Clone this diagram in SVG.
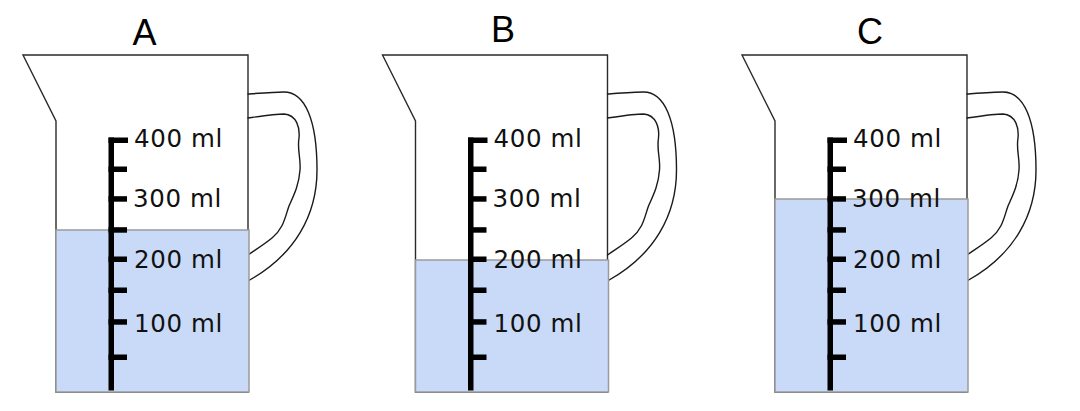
<svg xmlns="http://www.w3.org/2000/svg" xmlns:xlink="http://www.w3.org/1999/xlink" width="1080" height="411" viewBox="0 0 1080 411">
  <style>
    .outline { fill: none; stroke: #2a2a2a; stroke-width: 1.4; stroke-linejoin: miter; }
    .handle { fill: none; stroke: #1a1a1a; stroke-width: 1.4; stroke-linecap: round; }
    .water { fill: #c9daf8; stroke: #9a9a9a; stroke-width: 1.5; }
    .bar { fill: #000; }
    .lbl { font-family: "DejaVu Sans", "Noto Sans", sans-serif; font-size: 24.5px; letter-spacing: 0.6px; fill: #111; }
    .title { font-family: "Liberation Sans", Arial, sans-serif; font-size: 36px; fill: #000; text-anchor: middle; }
  </style>
  <defs>
    <g id="jug-body">
      <path class="outline" d="M23,55 L248,55 L248,392 L56,392 L56,121 Z"/>
      <path class="handle" d="M248,94 C262,93 275,92 284,92 C305,92 317,120 317,170 C317,215 295,255 248,281"/>
      <path class="handle" d="M248,118 C262,116 275,114 284,114 C297,115 300,128 299,138 C297,150 301,158 300,170 C299,185 294,195 289,206 C285,217 284,228 272,238 C262,246 255,250 248,255"/>
    </g>
    <g id="scale">
      <rect class="bar" x="108.5" y="137.5" width="5.5" height="253"/>
      <rect class="bar" x="108.5" y="137.5" width="19.5" height="5.5"/>
      <rect class="bar" x="108.5" y="166.5" width="18.5" height="5.5"/>
      <rect class="bar" x="108.5" y="196.2" width="18.5" height="5.5"/>
      <rect class="bar" x="108.5" y="227.2" width="18.5" height="5.5"/>
      <rect class="bar" x="108.5" y="256.5" width="18.5" height="5.5"/>
      <rect class="bar" x="108.5" y="287.5" width="18.5" height="5.5"/>
      <rect class="bar" x="108.5" y="319.2" width="18.5" height="5.5"/>
      <rect class="bar" x="108.5" y="354.5" width="18.5" height="5.5"/>
    </g>
  </defs>

  <g id="jug-A">
    <text class="title" x="144.5" y="44.5">A</text>
    <use xlink:href="#jug-body"/>
    <rect class="water" x="56" y="230" width="193" height="162"/>
    <use xlink:href="#scale"/>
    <text class="lbl" x="134" y="146.7">400 ml</text>
    <text class="lbl" x="133" y="207.3">300 ml</text>
    <text class="lbl" x="134" y="268.3">200 ml</text>
    <text class="lbl" x="134" y="331.7">100 ml</text>
  </g>

  <g id="jug-B" transform="translate(359.5,0)">
    <text class="title" x="143.5" y="42.3">B</text>
    <use xlink:href="#jug-body"/>
    <rect class="water" x="56" y="260" width="193" height="132"/>
    <use xlink:href="#scale"/>
    <text class="lbl" x="134" y="146.7">400 ml</text>
    <text class="lbl" x="133" y="207.3">300 ml</text>
    <text class="lbl" x="134" y="268.3">200 ml</text>
    <text class="lbl" x="134" y="331.7">100 ml</text>
  </g>

  <g id="jug-C" transform="translate(719,0)">
    <text class="title" x="151" y="44.3">C</text>
    <use xlink:href="#jug-body"/>
    <rect class="water" x="56" y="199" width="193" height="193"/>
    <use xlink:href="#scale"/>
    <text class="lbl" x="134" y="146.7">400 ml</text>
    <text class="lbl" x="133" y="207.3">300 ml</text>
    <text class="lbl" x="134" y="268.3">200 ml</text>
    <text class="lbl" x="134" y="331.7">100 ml</text>
  </g>

  <g id="connectors"></g>
</svg>
